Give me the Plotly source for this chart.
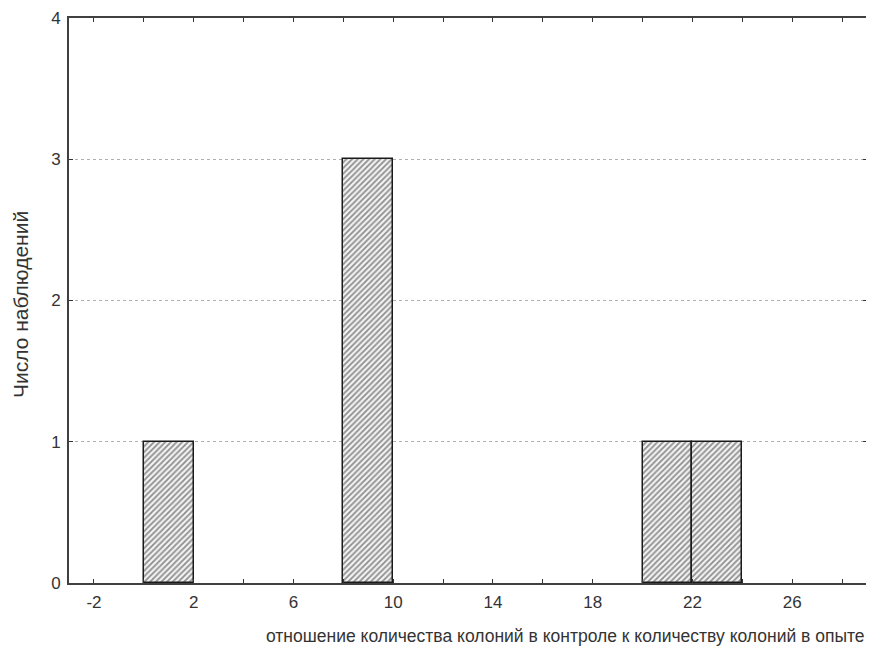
import plotly.graph_objects as go

# Histogram data (bin edges and counts)
bin_left = [0, 8, 20, 22]
bin_width = [2, 2, 2, 2]
counts = [1, 3, 1, 1]

x_tick_vals = [-2, 0, 2, 4, 6, 8, 10, 12, 14, 16, 18, 20, 22, 24, 26, 28]
x_tick_text = ["-2", "", "2", "", "6", "", "10", "", "14", "", "18", "", "22", "", "26", ""]
y_tick_vals = [0, 1, 2, 3, 4]

x_title = "отношение количества колоний в контроле к количеству колоний в опыте"
y_title = "Число наблюдений"

centers = [l + w / 2 for l, w in zip(bin_left, bin_width)]

# page body has an 8px default margin; compensate so the plot lands where the reference has it
OFF = 8
W, H = 874 - OFF, 652 - OFF
plot_left, plot_right, plot_top, plot_bottom = 69 - OFF, 867 - OFF, 18 - OFF, 583 - OFF
L, R, T, B = plot_left, W - plot_right, plot_top, H - plot_bottom

fig = go.Figure()
fig.add_trace(go.Bar(
    x=centers, y=counts, width=bin_width,
    marker=dict(
        color="#d8d8d8",
        line=dict(color="#1a1a1a", width=1.5),
        pattern=dict(shape="/", fgcolor="#2a2a2a", bgcolor="#f2f2f2", size=4, solidity=0.45),
    ),
    showlegend=False,
))

fig.update_layout(
    width=W, height=H,
    margin=dict(l=L, r=R, t=T, b=B, autoexpand=False),
    paper_bgcolor="white", plot_bgcolor="white",
    font=dict(family="Liberation Sans, Arial, sans-serif", color="#333333", size=17),
    bargap=0,
)
fig.update_xaxes(
    range=[-3, 29], tickvals=x_tick_vals, ticktext=x_tick_text,
    ticks="inside", ticklen=4, tickcolor="#333333", automargin=False,
    showline=True, linecolor="#404040", linewidth=2, mirror="ticks",
    showgrid=False, zeroline=False, ticklabelstandoff=3,
    tickfont=dict(size=17),
)
fig.update_yaxes(
    range=[0, 4], tickvals=y_tick_vals, automargin=False,
    ticks="inside", ticklen=4, tickcolor="#333333",
    showline=True, linecolor="#404040", linewidth=2, mirror="ticks",
    showgrid=True, gridcolor="#b0b0b0", griddash="dot", gridwidth=1,
    zeroline=False, ticklabelstandoff=3,
    tickfont=dict(size=17),
)

plot_w = W - L - R
plot_h = H - T - B
xt_cx, xt_cy = 565 - OFF, 636 - OFF
yt_cx, yt_cy = 20 - OFF, 305 - OFF
fig.add_annotation(
    text=x_title, xref="paper", yref="paper",
    x=(xt_cx - L) / plot_w, y=-(xt_cy - plot_bottom) / plot_h,
    xanchor="center", yanchor="middle", showarrow=False,
    font=dict(size=17.5, color="#333333"),
)
fig.add_annotation(
    text=y_title, xref="paper", yref="paper",
    x=-(L - yt_cx) / plot_w, y=(plot_bottom - yt_cy) / plot_h,
    xanchor="center", yanchor="middle", showarrow=False, textangle=-90,
    font=dict(size=21, color="#333333"),
)

fig.write_html("out.html")
